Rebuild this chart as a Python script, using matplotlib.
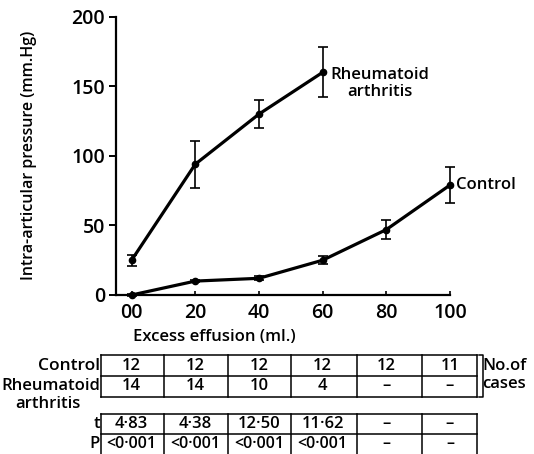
import matplotlib
matplotlib.use('Agg')
import matplotlib.pyplot as plt
import matplotlib.transforms as mtransforms

# data
ra_x = [0, 20, 40, 60]
ra_y = [25, 94, 130, 160]
ra_err = [4, 17, 10, 18]

ctrl_x = [0, 20, 40, 60, 80, 100]
ctrl_y = [0, 10, 12, 25, 47, 79]
ctrl_err = [1, 1, 1.5, 3, 7, 13]

xticks = [0, 20, 40, 60, 80, 100]
xtick_labels = ['00', '20', '40', '60', '80', '100']
yticks = [0, 50, 100, 150, 200]

cases_control = ['12', '12', '12', '12', '12', '11']
cases_ra = ['14', '14', '10', '4', '–', '–']
t_values = ['4·83', '4·38', '12·50', '11·62', '–', '–']
p_values = ['<0·001', '<0·001', '<0·001', '<0·001', '–', '–']

plt.rcParams['font.family'] = ['Open Sans', 'DejaVu Sans']
plt.rcParams['font.weight'] = 600
plt.rcParams['axes.labelweight'] = 600

W, H = 534, 454
fig = plt.figure(figsize=(W / 100, H / 100), dpi=100)
ax = fig.add_axes([116 / W, 1 - 295 / H, 334 / W, 278.3 / H])

ax.errorbar(ra_x, ra_y, yerr=ra_err, color='black', lw=2.3, marker='o', ms=4.5,
            elinewidth=1.2, capsize=3.5, capthick=1.2, clip_on=False, zorder=3)
ax.errorbar(ctrl_x, ctrl_y, yerr=ctrl_err, color='black', lw=2.3, marker='o', ms=4.5,
            elinewidth=1.2, capsize=3.5, capthick=1.2, clip_on=False, zorder=3)

ax.set_xlim(-4.9, 100)
ax.set_ylim(0, 200)
for s in ['top', 'right']:
    ax.spines[s].set_visible(False)
for s in ['left', 'bottom']:
    ax.spines[s].set_linewidth(1.6)

ax.set_yticks(yticks)
ax.set_xticks(xticks)
ax.set_xticklabels(xtick_labels)
ax.tick_params(axis='y', length=5, width=1.4, pad=3, labelsize=14)
ax.tick_params(axis='x', direction='in', length=3, width=1.2, pad=6, labelsize=14)

ax.set_ylabel('Intra-articular pressure (mm.Hg)', fontsize=11.5)
ax.yaxis.set_label_coords(-0.237, 0.5)
ax.text(0.293, -0.152, 'Excess effusion (ml.)', transform=ax.transAxes,
        ha='center', va='center', fontsize=12)

ax.text(62.5, 152, 'Rheumatoid\narthritis', ha='left', va='center',
        fontsize=12, linespacing=1.05, multialignment='center')
ax.text(102, 79, 'Control', ha='left', va='center', fontsize=12)

# table below the plot: x in data units, y in pixels from the top
tr = mtransforms.blended_transform_factory(ax.transData, fig.transFigure)


def fy(py):
    return 1 - py / H


edges = [-9.5, 10.2, 30.4, 50.2, 70.7, 91.2, 108.5]
tl = dict(color='black', lw=1.1, transform=tr, clip_on=False)

# number of cases
for py in [355, 376, 397]:
    ax.plot([edges[0], edges[-1]], [fy(py), fy(py)], **tl)
for ex in edges:
    ax.plot([ex, ex], [fy(355), fy(397)], **tl)

# t and P
for py in [414, 434]:
    ax.plot([edges[0], edges[-1]], [fy(py), fy(py)], **tl)
for ex in edges:
    ax.plot([ex, ex], [fy(414), fy(454)], **tl)

for i, cx in enumerate(xticks):
    ax.text(cx, fy(366), cases_control[i], transform=tr, ha='center', va='center', fontsize=12)
    ax.text(cx, fy(386), cases_ra[i], transform=tr, ha='center', va='center', fontsize=12)
    ax.text(cx, fy(424), t_values[i], transform=tr, ha='center', va='center', fontsize=12)
    ax.text(cx, fy(444), p_values[i], transform=tr, ha='center', va='center', fontsize=11.5)

fig.text(100 / W, fy(366), 'Control', ha='right', va='center', fontsize=12.5)
fig.text(100 / W, fy(386), 'Rheumatoid', ha='right', va='center', fontsize=12)
fig.text(48 / W, fy(404), 'arthritis', ha='center', va='center', fontsize=12)
fig.text(100 / W, fy(424), 't', ha='right', va='center', fontsize=12)
fig.text(100 / W, fy(444), 'P', ha='right', va='center', fontsize=12)

# bracket for "No. of cases"
bx = 110.5
ax.plot([edges[-1] + 0.6, bx, bx, edges[-1] + 0.6], [fy(355), fy(355), fy(397), fy(397)], **tl)
fig.text(482 / W, fy(366), 'No.of', ha='left', va='center', fontsize=12)
fig.text(482 / W, fy(384), 'cases', ha='left', va='center', fontsize=12)

fig.savefig('out.png', dpi=100)
